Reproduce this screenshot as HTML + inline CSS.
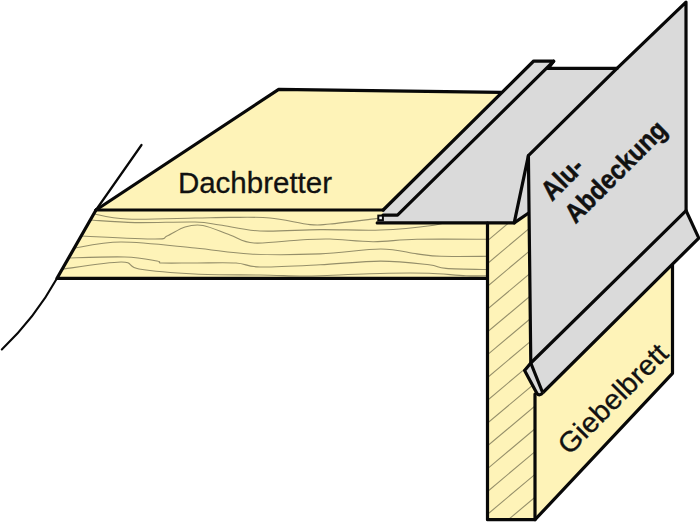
<!DOCTYPE html>
<html><head><meta charset="utf-8">
<style>
html,body{margin:0;padding:0;background:#fff;overflow:hidden}
svg{display:block}
text{font-family:"Liberation Sans", sans-serif}
</style></head>
<body>
<svg width="700" height="525" viewBox="0 0 700 525">
<defs><clipPath id="ff"><polygon points="96,210 487.5,210 487.5,278.3 57,278.3"/></clipPath>
<clipPath id="gf"><polygon points="487.5,212 535,212 535,520 487.5,520"/></clipPath></defs>
<polygon points="96,210 278.7,89.3 501,92.4 383.2,210" fill="#FEF3B8"/>
<polygon points="96,210 487.5,210 487.5,278.3 57,278.3" fill="#FEF3B8"/>
<polygon points="487.5,223 514.2,222.9 528.3,213.3 535,213 535,519.7 487.5,519.7" fill="#FEF3B8"/>
<polygon points="535,394 672.5,265 672.5,373.3 535,519.7" fill="#FEF3B8"/>
<g clip-path="url(#ff)" fill="none" stroke="#958f6a" stroke-width="1.1">
<path d="M92,213.5 C97.8,214.4 109.8,218.2 127,219 C144.2,219.8 177.8,218.3 195,218 C212.2,217.7 217.5,217.4 230,217.4 C242.5,217.4 256.7,216.8 270,218 C283.3,219.2 300.0,223.6 310,224.6 C320.0,225.6 319.0,225.0 330,224 C341.0,223.0 367.3,219.6 376,218.6 C384.7,217.6 381.0,218.1 382,218"/>
<path d="M90,220 C97.5,220.4 117.5,222.3 135,222.6 C152.5,222.9 180.8,221.6 195,222 C209.2,222.4 209.2,223.5 220,225 C230.8,226.5 243.3,230.2 260,231 C276.7,231.8 299.9,229.8 320,229.6 C340.1,229.4 361.7,230.7 380.7,230 C399.7,229.3 422.8,226.7 434,225.2 C445.2,223.7 445.7,221.7 448,221"/>
<path d="M80,236 C92.5,236.5 140.5,239.0 155,239 C169.5,239.0 162.0,238.0 167,236 C172.0,234.0 179.0,228.8 185,227 C191.0,225.2 195.5,224.2 203,225.5 C210.5,226.8 221.5,232.1 230,235 C238.5,237.9 242.3,242.2 254,243 C265.7,243.8 287.3,240.7 300,240 C312.7,239.3 317.8,238.7 330,239 C342.2,239.3 358.5,241.6 373,241.7 C387.5,241.8 397.2,239.7 417,239.3 C436.8,238.9 479.5,239.3 492,239.3"/>
<path d="M72,248.5 C80.2,247.4 100.5,242.1 121,242 C141.5,241.9 173.5,246.0 195,248 C216.5,250.0 229.2,253.0 250,254 C270.8,255.0 298.2,254.7 320,253.9 C341.8,253.1 364.5,249.0 380.7,249 C396.9,249.0 406.9,252.7 417,253.9 C427.1,255.1 428.5,255.9 441,256.3 C453.5,256.7 483.5,256.3 492,256.3"/>
<path d="M66,258 C75.8,257.8 109.8,256.5 125,257 C140.2,257.5 150.8,260.0 157,261 C163.2,262.0 155.7,262.7 162,263 C168.3,263.3 182.7,263.0 195,263 C207.3,263.0 225.2,262.3 236,263 C246.8,263.7 246.0,266.7 260,267 C274.0,267.3 299.9,265.8 320,264.8 C340.1,263.8 362.5,261.1 380.7,261.1 C398.9,261.1 418.1,263.6 429,264.8 C439.9,266.0 435.5,267.6 446,268.4 C456.5,269.2 484.3,269.4 492,269.6"/>
<path d="M60,269.5 C70.2,268.2 107.8,262.1 121,262 C134.2,261.9 126.7,267.0 139,269 C151.3,271.0 174.8,273.0 195,274 C215.2,275.0 242.5,274.7 260,275 C277.5,275.3 290.0,275.9 300,276 C310.0,276.1 305.3,276.1 320,275.7 C334.7,275.2 369.8,273.7 388,273.3 C406.2,272.9 416.0,272.9 429,273.3 C442.0,273.7 455.5,275.3 466,275.7 C476.5,276.1 487.7,275.7 492,275.7"/>
</g>
<g clip-path="url(#gf)" stroke="#958f6a" stroke-width="1.1">
<line x1="480" y1="224.2" x2="560" y2="157.0"/>
<line x1="480" y1="247.0" x2="560" y2="179.8"/>
<line x1="480" y1="269.8" x2="560" y2="202.6"/>
<line x1="480" y1="292.6" x2="560" y2="225.4"/>
<line x1="480" y1="315.4" x2="560" y2="248.2"/>
<line x1="480" y1="338.2" x2="560" y2="271.0"/>
<line x1="480" y1="361.0" x2="560" y2="293.8"/>
<line x1="480" y1="383.8" x2="560" y2="316.6"/>
<line x1="480" y1="406.6" x2="560" y2="339.4"/>
<line x1="480" y1="429.4" x2="560" y2="362.2"/>
<line x1="480" y1="452.2" x2="560" y2="385.0"/>
<line x1="480" y1="475.0" x2="560" y2="407.8"/>
<line x1="480" y1="497.8" x2="560" y2="430.6"/>
<line x1="480" y1="520.6" x2="560" y2="453.4"/>
<line x1="480" y1="543.4" x2="560" y2="476.2"/>
</g>
<polygon points="686,2.2 686.1,210.7 530.8,363 528.4,155.6 617,68.4" fill="#DADADA"/>
<path d="M686.1,210.7 L698.8,238.1 L543,392.5 Q539.5,396.5 537,393.5 L524.6,370.6 L530.8,363 Z" fill="#DADADA"/>
<polygon points="548,68.4 617,68.4 528.4,155.6 514.2,222.9 377.2,222.9 383,215.2 397.5,215.2" fill="#DADADA"/>
<polygon points="528.4,155.6 514.2,222.9 528.3,213.3" fill="#DADADA"/>
<polygon points="533.7,61 553.7,61.2 397.5,215.2 383,215.2 383.2,210" fill="#DADADA"/>
<path d="M57,278.3 Q35,318 1.8,349.5" fill="none" stroke="#080808" stroke-width="2.1" stroke-linecap="round"/>
<path d="M141.5,145 L96,210" fill="none" stroke="#080808" stroke-width="2.2" stroke-linecap="round"/>
<path d="M57,300 Q30,330 1,351" fill="none" stroke="#080808" stroke-width="0"/>
<polyline points="96,210 278.7,89.3 501,92.4" fill="none" stroke="#080808" stroke-width="3.2" stroke-linejoin="round" stroke-linecap="round"/>
<polyline points="96,210 57,278.3 487.5,278.3" fill="none" stroke="#080808" stroke-width="3.2" stroke-linejoin="round" stroke-linecap="round"/>
<polyline points="96,210 383.2,210" fill="none" stroke="#080808" stroke-width="3.2" stroke-linejoin="round" stroke-linecap="round"/>
<polyline points="487.5,223 487.5,519.7 535,519.7 672.5,373.3 672.5,265" fill="none" stroke="#080808" stroke-width="3.2" stroke-linejoin="round" stroke-linecap="round"/>
<polyline points="535,519.7 535,394" fill="none" stroke="#080808" stroke-width="3.2" stroke-linejoin="round" stroke-linecap="round"/>
<polyline points="528.4,155.6 617,68.4 686,2.2 686.1,210.7 698.8,238.1 543,392.5" fill="none" stroke="#080808" stroke-width="3.2" stroke-linejoin="round" stroke-linecap="butt"/>
<path d="M543,392.5 Q539.5,396.5 537,393.5 L524.6,370.6 L530.8,363 L528.4,155.6" fill="none" stroke="#080808" stroke-width="3.2" stroke-linejoin="round"/>
<polyline points="686.1,210.7 530.8,363 542,391" fill="none" stroke="#080808" stroke-width="3.2" stroke-linejoin="round" stroke-linecap="round"/>
<polyline points="553.7,61.2 548,68.4 617,68.4" fill="none" stroke="#080808" stroke-width="3.2" stroke-linejoin="round" stroke-linecap="round"/>
<polyline points="528.4,155.6 514.2,222.9 377.2,222.9" fill="none" stroke="#080808" stroke-width="3.2" stroke-linejoin="round" stroke-linecap="round"/>
<polyline points="514.2,222.9 528.3,213.3" fill="none" stroke="#080808" stroke-width="3.2" stroke-linejoin="round" stroke-linecap="round"/>
<polyline points="383.2,210 533.7,61 553.7,61.2 397.5,215.2 383,215.2" fill="none" stroke="#080808" stroke-width="3.2" stroke-linejoin="round" stroke-linecap="round"/>
<rect x="378.3" y="215.6" width="4.6" height="4.6" fill="#f4f4f4" stroke="#080808" stroke-width="2"/>
<text x="177.9" y="193" font-size="29.5" fill="#111" stroke="#111" stroke-width="0.3">Dachbretter</text>
<g transform="translate(552,202) rotate(-45) scale(0.89,1)"><text x="0" y="0" font-size="27.5" font-weight="bold" fill="#111" stroke="#111" stroke-width="0.5">Alu-</text></g>
<g transform="translate(575.5,224.5) rotate(-45) scale(0.895,1)"><text x="0" y="0" font-size="27" font-weight="bold" fill="#111" stroke="#111" stroke-width="0.5">Abdeckung</text></g>
<g transform="translate(569.3,456) rotate(-45) scale(1.04,1)"><text x="0" y="0" font-size="28" fill="#111" stroke="#111" stroke-width="0.35">Giebelbrett</text></g>
</svg>
</body></html>
